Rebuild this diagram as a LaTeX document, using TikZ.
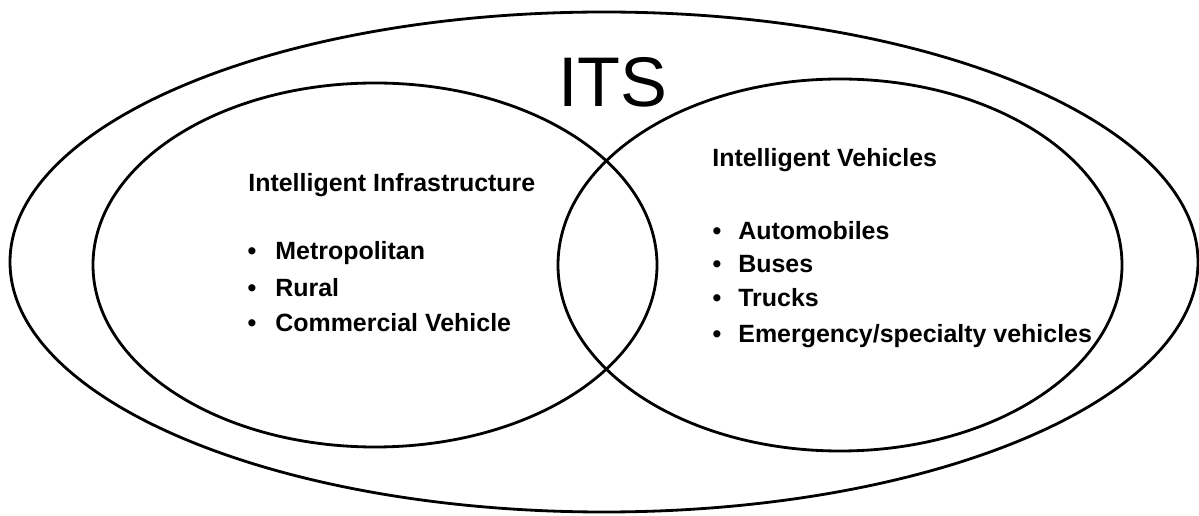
\documentclass[tikz,border=0pt]{standalone}
\usepackage{fontspec}
\setmainfont{Liberation Sans}
\begin{document}
\begin{tikzpicture}[x=0.02cm,y=-0.02cm,
  ring/.style={line width=1.6pt},
  head/.style={anchor=base west,inner sep=0pt,font=\fontsize{14.2pt}{17pt}\selectfont\bfseries},
  item/.style={anchor=base west,inner sep=0pt,font=\fontsize{14.2pt}{17pt}\selectfont\bfseries},
  dot/.style={anchor=base,inner sep=0pt,font=\fontsize{14.2pt}{17pt}\selectfont\bfseries}]
  \useasboundingbox (0,0) rectangle (1199,516);
  % outer set and the two inner sets
  \draw[ring] (604,262) ellipse [x radius=594,y radius=250];
  \draw[ring] (375,265) ellipse [x radius=282,y radius=182];
  \draw[ring] (840,265) ellipse [x radius=282,y radius=186];
  \node[anchor=base,inner sep=0pt,font=\fontsize{40pt}{40pt}\selectfont] (its) at (613,107) {ITS};
  % left set
  \node[head] (infra) at (248,192) {Intelligent Infrastructure};
  \node[dot] (d1) at (252,260) {\textbullet}; \node[item] (metro) at (275,260) {Metropolitan};
  \node[dot] (d2) at (252,297) {\textbullet}; \node[item] (rural) at (275,297) {Rural};
  \node[dot] (d3) at (252,332) {\textbullet}; \node[item] (commercial) at (275,332) {Commercial Vehicle};
  % right set
  \node[head] (vehicles) at (712,167) {Intelligent Vehicles};
  \node[dot] (d4) at (717,240) {\textbullet}; \node[item] (auto) at (738,240) {Automobiles};
  \node[dot] (d5) at (717,273) {\textbullet}; \node[item] (buses) at (738,273) {Buses};
  \node[dot] (d6) at (717,307) {\textbullet}; \node[item] (trucks) at (738,307) {Trucks};
  \node[dot] (d7) at (717,343) {\textbullet}; \node[item] (emergency) at (738,343) {Emergency/specialty vehicles};
\end{tikzpicture}
\end{document}
